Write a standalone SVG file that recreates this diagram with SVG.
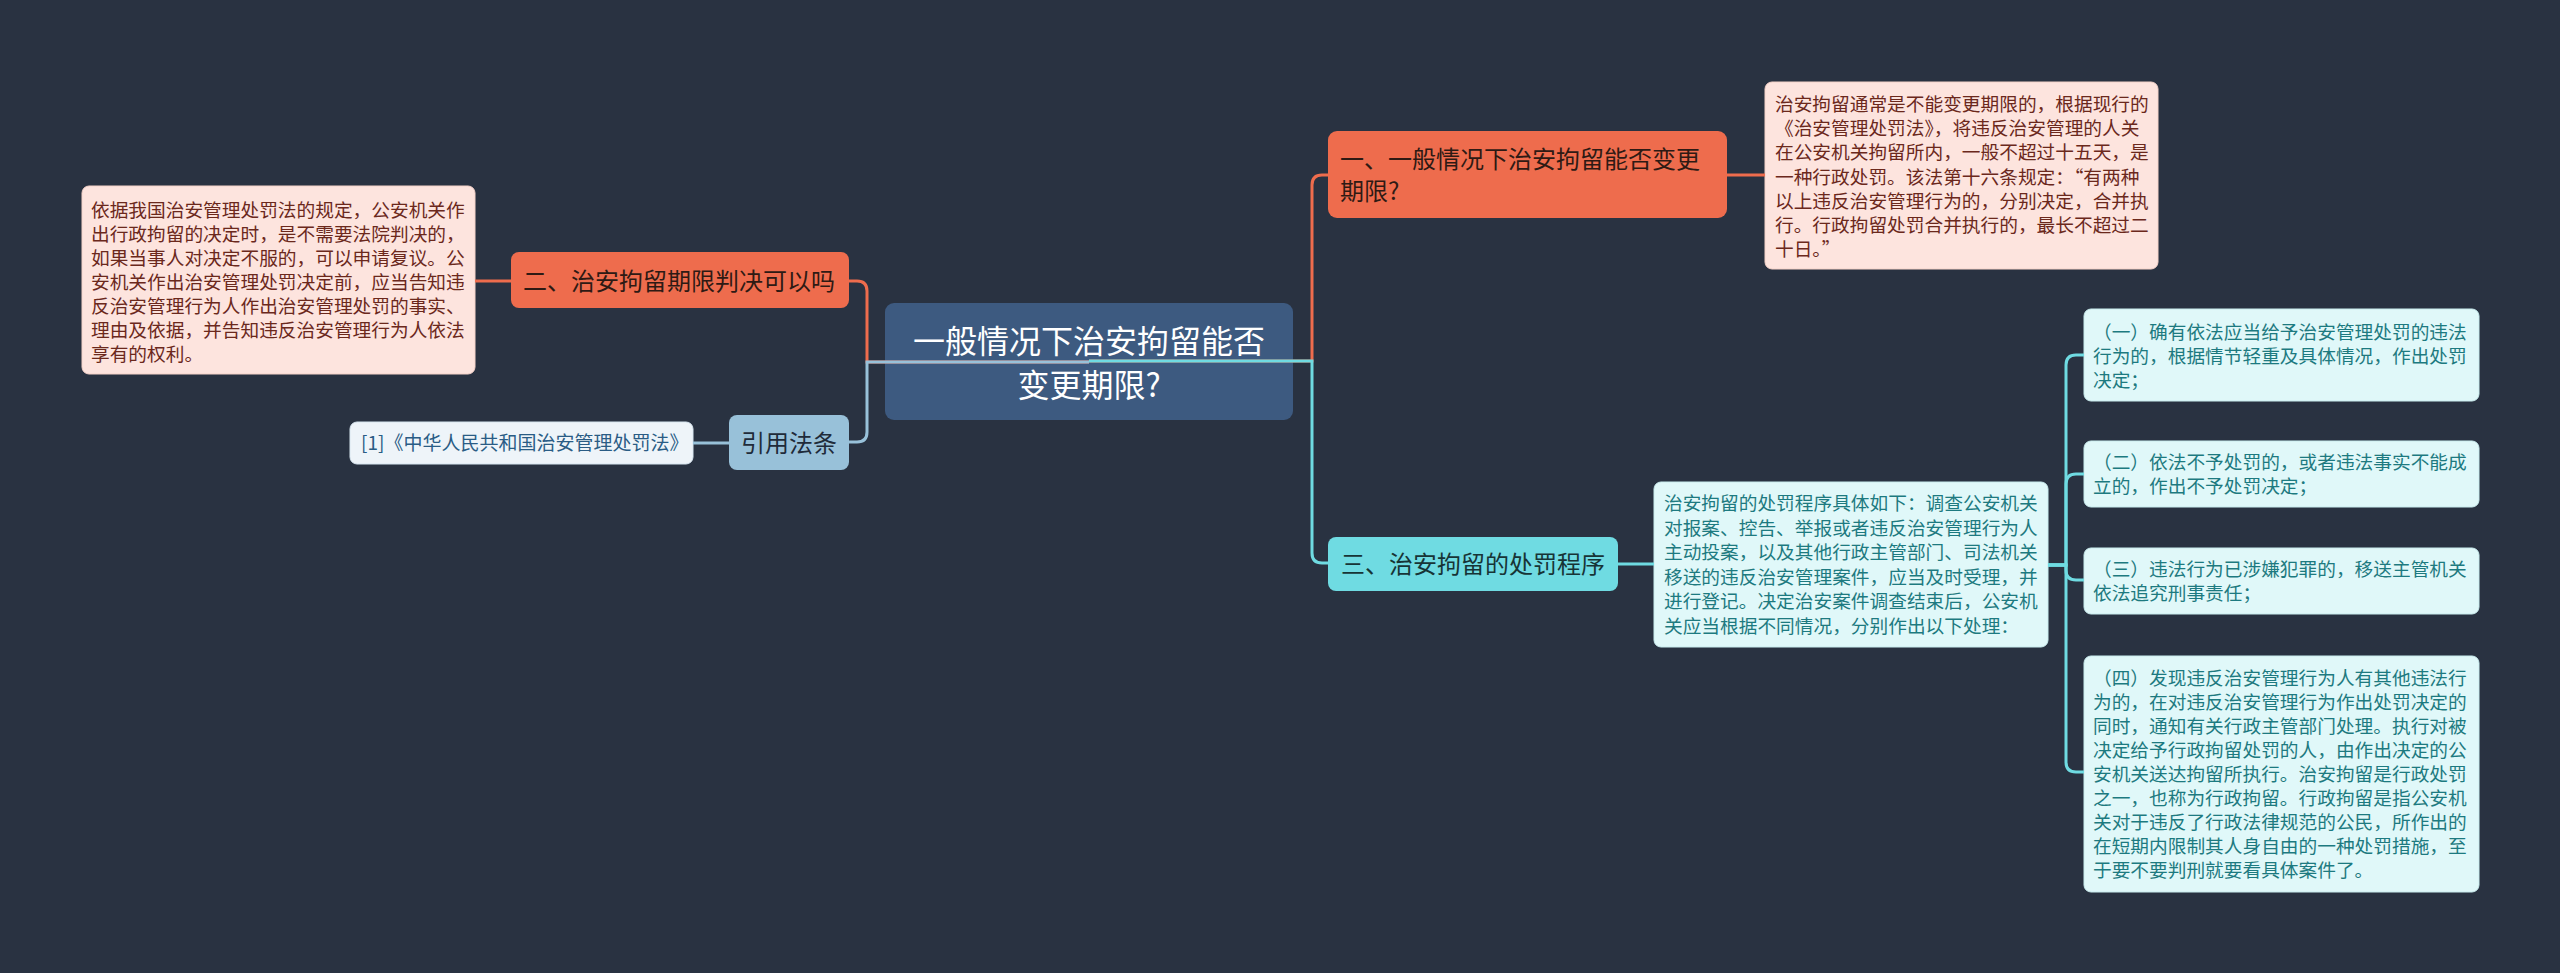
<svg xmlns="http://www.w3.org/2000/svg" width="2560" height="973" viewBox="0 0 2560 973">
<style>
text{font-family:"Noto Sans CJK SC","Noto Sans",sans-serif;}
.bg{fill:#293241;}
.center rect{fill:#3d5a80;}
.center text{fill:#ffffff;font-size:32px;text-anchor:middle;}
.orange rect{fill:#ee6c4d;}
.orange text{fill:#2e1a14;font-size:24px;}
.pink rect{fill:#fde4de;stroke:#f4d2c9;stroke-width:1;}
.pink text{fill:#6b281c;font-size:18.7px;}
.blue rect{fill:#98c1d9;}
.blue text{fill:#1f2b3a;font-size:24px;text-anchor:middle;}
.ref rect{fill:#eef4f9;stroke:#d8e6f0;stroke-width:1;}
.ref text{fill:#2a5c85;font-size:19px;}
.cyan rect{fill:#6fdbe2;}
.cyan text{fill:#173436;font-size:24px;}
.lcyan rect{fill:#e0f8f9;stroke:#c9ecee;stroke-width:1;}
.lcyan text{fill:#1d7a80;font-size:18.7px;}
.conn path{fill:none;stroke-width:3;}
.co{stroke:#ee6c4d;}
.cb{stroke:#98c1d9;}
.cc{stroke:#6fdbe2;}
</style>
<rect class="bg" x="0" y="0" width="2560" height="973"/>

<g id="node-center" class="center">
<rect x="885" y="303" width="408" height="117" rx="9"/>
<text x="1089" y="353">一般情况下治安拘留能否</text>
<text x="1089" y="397">变更期限?</text>
</g>

<g id="node-1" class="orange">
<rect x="1328" y="131" width="399" height="87" rx="9"/>
<text x="1340" y="168">一、一般情况下治安拘留能否变更</text>
<text x="1340" y="200">期限?</text>
</g>

<g id="node-1-detail" class="pink">
<rect x="1765" y="82" width="393" height="187" rx="7"/>
<text x="1775" y="111">治安拘留通常是不能变更期限的，根据现行的</text>
<text x="1775" y="135.2">《治安管理处罚法》，将违反治安管理的人关</text>
<text x="1775" y="159.4">在公安机关拘留所内，一般不超过十五天，是</text>
<text x="1775" y="183.6">一种行政处罚。该法第十六条规定：“有两种</text>
<text x="1775" y="207.8">以上违反治安管理行为的，分别决定，合并执</text>
<text x="1775" y="232">行。行政拘留处罚合并执行的，最长不超过二</text>
<text x="1775" y="256.2">十日。”</text>
</g>

<g id="node-2" class="orange">
<rect x="511" y="252" width="338" height="56" rx="8"/>
<text x="523" y="290">二、治安拘留期限判决可以吗</text>
</g>

<g id="node-2-detail" class="pink">
<rect x="82" y="186" width="393" height="188" rx="7"/>
<text x="91" y="217">依据我国治安管理处罚法的规定，公安机关作</text>
<text x="91" y="241">出行政拘留的决定时，是不需要法院判决的，</text>
<text x="91" y="265">如果当事人对决定不服的，可以申请复议。公</text>
<text x="91" y="289">安机关作出治安管理处罚决定前，应当告知违</text>
<text x="91" y="313">反治安管理行为人作出治安管理处罚的事实、</text>
<text x="91" y="337">理由及依据，并告知违反治安管理行为人依法</text>
<text x="91" y="361">享有的权利。</text>
</g>

<g id="node-ref" class="blue">
<rect x="729" y="415" width="120" height="55" rx="8"/>
<text x="789" y="452">引用法条</text>
</g>

<g id="node-ref-detail" class="ref">
<rect x="350" y="422" width="343" height="42" rx="7"/>
<text x="361" y="450">[1]《中华人民共和国治安管理处罚法》</text>
</g>

<g id="node-3" class="cyan">
<rect x="1328" y="537" width="290" height="54" rx="8"/>
<text x="1341" y="573">三、治安拘留的处罚程序</text>
</g>

<g id="node-3-detail" class="lcyan">
<rect x="1654" y="482" width="394" height="165" rx="7"/>
<text x="1664" y="510">治安拘留的处罚程序具体如下：调查公安机关</text>
<text x="1664" y="534.5">对报案、控告、举报或者违反治安管理行为人</text>
<text x="1664" y="559">主动投案，以及其他行政主管部门、司法机关</text>
<text x="1664" y="583.5">移送的违反治安管理案件，应当及时受理，并</text>
<text x="1664" y="608">进行登记。决定治安案件调查结束后，公安机</text>
<text x="1664" y="632.5">关应当根据不同情况，分别作出以下处理：</text>
</g>

<g id="node-3-1" class="lcyan">
<rect x="2084" y="309" width="395" height="92" rx="7"/>
<text x="2093" y="339">（一）确有依法应当给予治安管理处罚的违法</text>
<text x="2093" y="363">行为的，根据情节轻重及具体情况，作出处罚</text>
<text x="2093" y="387">决定；</text>
</g>

<g id="node-3-2" class="lcyan">
<rect x="2084" y="441" width="395" height="66" rx="7"/>
<text x="2093" y="469">（二）依法不予处罚的，或者违法事实不能成</text>
<text x="2093" y="493">立的，作出不予处罚决定；</text>
</g>

<g id="node-3-3" class="lcyan">
<rect x="2084" y="548" width="395" height="66" rx="7"/>
<text x="2093" y="576">（三）违法行为已涉嫌犯罪的，移送主管机关</text>
<text x="2093" y="600">依法追究刑事责任；</text>
</g>

<g id="node-3-4" class="lcyan">
<rect x="2084" y="656" width="395" height="236" rx="7"/>
<text x="2093" y="685">（四）发现违反治安管理行为人有其他违法行</text>
<text x="2093" y="709">为的，在对违反治安管理行为作出处罚决定的</text>
<text x="2093" y="733">同时，通知有关行政主管部门处理。执行对被</text>
<text x="2093" y="757">决定给予行政拘留处罚的人，由作出决定的公</text>
<text x="2093" y="781">安机关送达拘留所执行。治安拘留是行政处罚</text>
<text x="2093" y="805">之一，也称为行政拘留。行政拘留是指公安机</text>
<text x="2093" y="829">关对于违反了行政法律规范的公民，所作出的</text>
<text x="2093" y="853">在短期内限制其人身自由的一种处罚措施，至</text>
<text x="2093" y="877">于要不要判刑就要看具体案件了。</text>
</g>

<g id="connectors" class="conn">
<path class="co" d="M1089 362 H867 V291 Q867 281 857 281 H849"/>
<path class="cb" d="M1089 362 H867 V432 Q867 442 857 442 H849"/>
<path class="co" d="M1089 361 H1312 V185 Q1312 175 1322 175 H1328"/>
<path class="cc" d="M1089 361 H1312 V553 Q1312 563 1322 563 H1328"/>
<path class="co" d="M1727 175 H1765"/>
<path class="co" d="M511 281 H475"/>
<path class="cb" d="M729 443 H693"/>
<path class="cc" d="M1618 564 H1654"/>
<path class="cc" d="M2048 565 H2066 V365 Q2066 355 2076 355 H2084"/>
<path class="cc" d="M2048 565 H2066 V484 Q2066 474 2076 474 H2084"/>
<path class="cc" d="M2048 565 H2066 V570 Q2066 580 2076 580 H2084"/>
<path class="cc" d="M2048 565 H2066 V762 Q2066 772 2076 772 H2084"/>
</g>
</svg>
